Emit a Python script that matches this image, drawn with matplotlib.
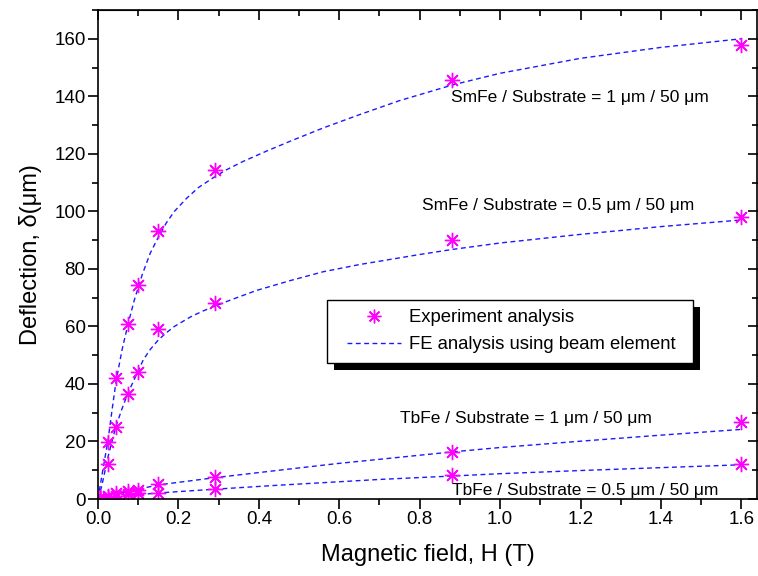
import numpy as np
import matplotlib
matplotlib.use('Agg')
import matplotlib.pyplot as plt
from matplotlib.patches import Rectangle
from matplotlib.lines import Line2D
from matplotlib.legend_handler import HandlerLine2D

plt.rcParams['font.family'] = ['Liberation Sans', 'DejaVu Sans']

# experiment points
H_exp = [0.005, 0.025, 0.045, 0.075, 0.1, 0.15, 0.29, 0.88, 1.6]
smfe_1 = [0.8, 19.7, 42, 61, 74.5, 93, 114.5, 145.5, 158]
smfe_05 = [0.5, 12.1, 25, 36.5, 44, 59, 68, 90, 98]
tbfe_1 = [0.3, 1.2, 2.0, 2.8, 3.3, 5.1, 7.8, 16.2, 26.8]
tbfe_05 = [0.2, 0.6, 1.1, 1.6, 2.0, 2.2, 3.4, 8.4, 12.1]

# FE curves (beam element)
fe_h_smfe1 = [0, 0.005, 0.015, 0.025, 0.035, 0.045, 0.06, 0.075, 0.09, 0.11, 0.13, 0.15,
              0.17, 0.19, 0.22, 0.25, 0.29, 0.32, 0.36, 0.42, 0.48, 0.56, 0.65, 0.75,
              0.883, 1.0, 1.2, 1.4, 1.6]
fe_smfe1 = [0, 4.3, 12.5, 20.5, 31, 41, 52, 61, 69, 78, 85.5, 91,
            96, 100, 104.5, 108.3, 112, 114.5, 117.3, 121, 124.5, 129, 133.6, 138.5,
            144, 148, 153.2, 157, 160]
fe_h_smfe05 = [0, 0.009, 0.025, 0.044, 0.06, 0.075, 0.1, 0.113, 0.13, 0.15, 0.17, 0.19,
               0.23, 0.26, 0.29, 0.33, 0.394, 0.48, 0.56, 0.65, 0.8, 0.883, 1.0, 1.2, 1.4, 1.6]
fe_smfe05 = [0, 4.3, 14.7, 25, 31.5, 37, 44.5, 48.5, 52, 55.3, 57.8, 60,
             63.3, 65.3, 67, 69.2, 72.5, 76, 79, 81.5, 85, 86.8, 89, 92, 94.7, 97]
fe_h_tbfe = [0, 0.025, 0.05, 0.1, 0.15, 0.29, 0.45, 0.6, 0.7, 0.883, 1.0, 1.2, 1.4, 1.6]
fe_tbfe1 = [0, 1.0, 1.9, 3.4, 4.9, 7.4, 10.0, 12.4, 13.8, 16.4, 17.9, 20.1, 22.2, 24.2]
fe_tbfe05 = [0, 0.4, 0.8, 1.5, 2.1, 3.4, 4.8, 6.0, 6.8, 8.0, 8.8, 9.9, 10.9, 11.9]

fig = plt.figure(figsize=(7.58, 5.76), dpi=100)
ax = fig.add_axes([98 / 758, 77 / 576, 659.5 / 758, 489 / 576])

star = (8, 2, 0)
mk = dict(marker=star, color='#ff00ff', markersize=11, markeredgewidth=1.0, linestyle='none')
ln = dict(color='#1a1aff', lw=1.0, dashes=(3.5, 2.5))

ax.plot(fe_h_smfe1, fe_smfe1, **ln)
ax.plot(fe_h_smfe05, fe_smfe05, **ln)
ax.plot(fe_h_tbfe, fe_tbfe1, **ln)
ax.plot(fe_h_tbfe, fe_tbfe05, **ln, label='FE analysis using beam element')
for ys in (smfe_1, smfe_05, tbfe_1):
    ax.plot(H_exp, ys, **mk)
    ax.plot(H_exp, ys, 'o', color='#ff00ff', markersize=2.5)
ax.plot(H_exp, tbfe_05, **mk, label='Experiment analysis')
ax.plot(H_exp, tbfe_05, 'o', color='#ff00ff', markersize=2.5)

ax.set_xlim(0, 1.64)
ax.set_ylim(0, 170)
ax.set_xticks(np.arange(0, 1.61, 0.2))
ax.set_xticks(np.arange(0, 1.61, 0.1), minor=True)
ax.set_yticks(np.arange(0, 161, 20))
ax.set_yticks(np.arange(0, 171, 10), minor=True)
ax.xaxis.set_major_formatter(matplotlib.ticker.FormatStrFormatter('%.1f'))
ax.tick_params(which='major', direction='out', length=7, width=1.2, labelsize=13.5, pad=2)
ax.tick_params(which='minor', direction='out', length=4, width=1.2)
for s in ax.spines.values():
    s.set_linewidth(1.2)

# mirrored axes on top/right with inward ticks
top = ax.secondary_xaxis('top')
top.set_xticks(np.arange(0, 1.61, 0.2))
top.set_xticks(np.arange(0, 1.61, 0.1), minor=True)
top.tick_params(which='major', direction='in', length=7, width=1.2, labeltop=False)
top.tick_params(which='minor', direction='in', length=4, width=1.2)
right = ax.secondary_yaxis('right')
right.set_yticks(np.arange(0, 161, 20))
right.set_yticks(np.arange(0, 171, 10), minor=True)
right.tick_params(which='major', direction='in', length=7, width=1.2, labelright=False)
right.tick_params(which='minor', direction='in', length=4, width=1.2)

ax.set_xlabel('Magnetic field, H (T)', fontsize=17, labelpad=11)
ax.set_ylabel('Deflection, δ(μm)', fontsize=17, labelpad=9)

fs = 12.5
ax.text(0.879, 139.6, 'SmFe / Substrate = 1 μm / 50 μm', fontsize=fs, va='center')
ax.text(0.805, 101.9, 'SmFe / Substrate = 0.5 μm / 50 μm', fontsize=fs, va='center')
ax.text(0.752, 28.1, 'TbFe / Substrate = 1 μm / 50 μm', fontsize=fs, va='center')
ax.text(0.881, 2.9, 'TbFe / Substrate = 0.5 μm / 50 μm', fontsize=fs, va='center')

h, l = ax.get_legend_handles_labels()
leg = ax.legend(h[::-1], l[::-1], loc='upper left', mode='expand',
                bbox_to_anchor=(327 / 758, 210 / 576, 366 / 758, 66 / 576),
                bbox_transform=fig.transFigure, fontsize=13.3, fancybox=False, framealpha=1,
                edgecolor='black', handlelength=3.5, handletextpad=0.45, labelspacing=0.55,
                borderpad=0.5, borderaxespad=0, markerscale=0.9,
                handler_map={Line2D: HandlerLine2D(xpad=0.6)})
leg.get_frame().set_linewidth(1.0)
leg.set_zorder(10)

# drop shadow behind the legend box
fig.canvas.draw()
bb = leg.get_window_extent()
shadow = Rectangle((bb.x0 + 7, bb.y0 - 7), bb.width, bb.height, transform=None,
                   facecolor='black', edgecolor='none', zorder=9)
ax.add_artist(shadow)

fig.savefig('out.png', dpi=100)
